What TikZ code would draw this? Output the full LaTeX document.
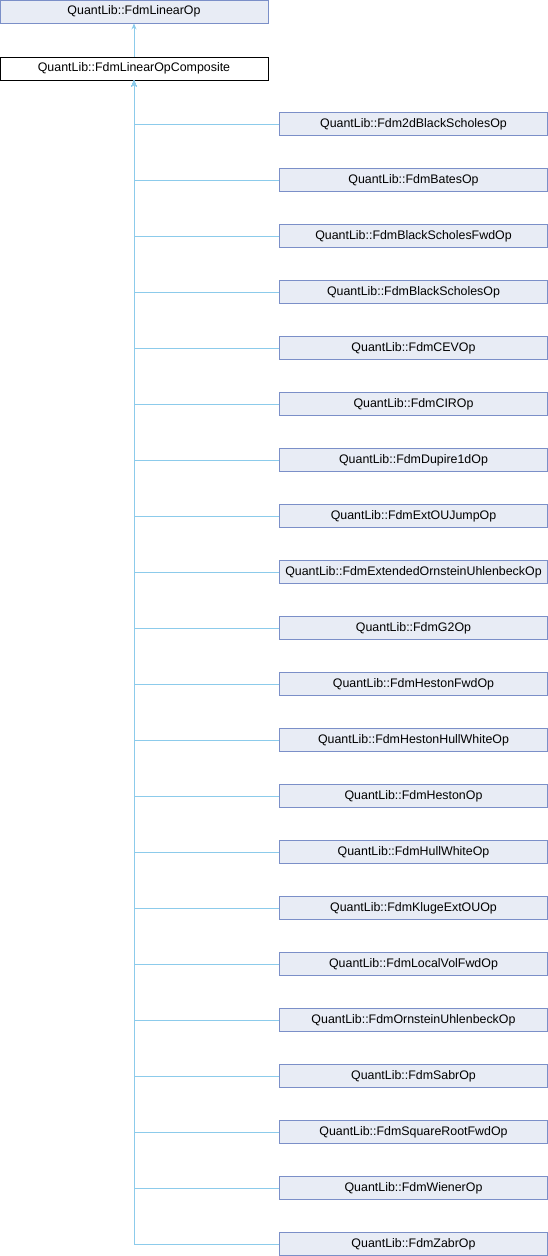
\documentclass[tikz,border=0pt]{standalone}
\usepackage{fontspec}
\setmainfont{Liberation Sans}
\usetikzlibrary{arrows.meta}

\definecolor{boxfill}{HTML}{E8ECF5}
\definecolor{boxline}{HTML}{7B8FC8}
\definecolor{edgeline}{HTML}{8CCBEB}

\begin{document}
\begin{tikzpicture}[
    x=1pt, y=-1pt,
    cls/.style={draw=boxline, fill=boxfill, line width=0.9pt, minimum width=268pt, minimum height=23pt,
                inner sep=0pt, font=\fontsize{12.4}{14}\selectfont},
    cur/.style={cls, draw=black, fill=white},
    edge/.style={draw=edgeline, line width=0.9pt, -{Stealth[length=6pt, width=5pt, fill=edgeline]}}
]
\useasboundingbox (0,0) rectangle (548,1256);

\node[cls] (base) at (134,11.5) {QuantLib::FdmLinearOp};
\node[cur] (comp) at (134,68.5) {QuantLib::FdmLinearOpComposite};
\draw[edge] (comp) -- (base);

% derived classes
\foreach \name [count=\i] in {Fdm2dBlackScholesOp, FdmBatesOp, FdmBlackScholesFwdOp,
    FdmBlackScholesOp, FdmCEVOp, FdmCIROp, FdmDupire1dOp, FdmExtOUJumpOp,
    FdmExtendedOrnsteinUhlenbeckOp, FdmG2Op, FdmHestonFwdOp, FdmHestonHullWhiteOp,
    FdmHestonOp, FdmHullWhiteOp, FdmKlugeExtOUOp, FdmLocalVolFwdOp,
    FdmOrnsteinUhlenbeckOp, FdmSabrOp, FdmSquareRootFwdOp, FdmWienerOp, FdmZabrOp} {
  \node[cls] (c\i) at (413.5,{124+56*(\i-1)}) {QuantLib::\name};
  \draw[edge] (c\i.west) -| (comp.south);
}
\end{tikzpicture}
\end{document}
